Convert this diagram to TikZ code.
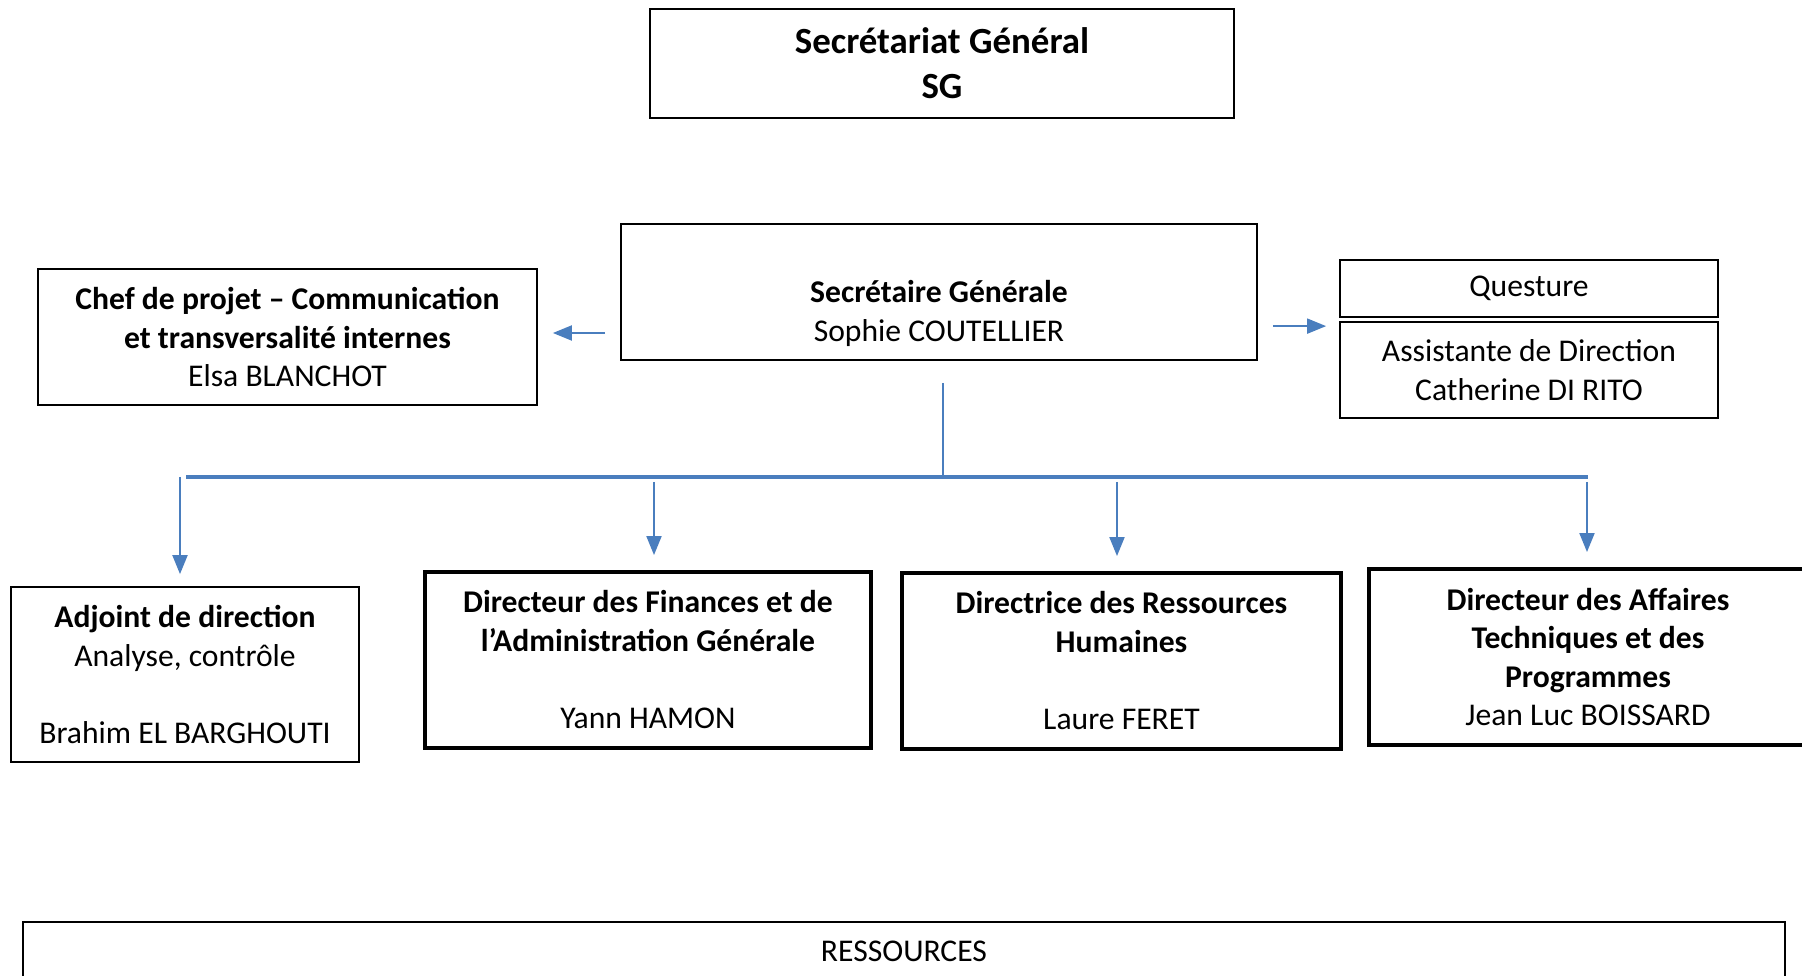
\documentclass[tikz,border=0pt]{standalone}
\usepackage{fontspec}
\setmainfont{Carlito}
\usetikzlibrary{arrows.meta}
\definecolor{linkblue}{RGB}{74,126,190}

\begin{document}
\begin{tikzpicture}[
    box/.style={draw, line width=1pt, align=center, inner sep=0pt,
                font=\fontsize{18}{22}\selectfont},
    thickbox/.style={box, line width=2.2pt},
    link/.style={draw=linkblue, line width=1.1pt},
    arr/.style={link, -{Triangle[length=0.38cm, width=0.3cm]}}
  ]
					% Fix the page to the size of the reference
					\useasboundingbox (0,0) rectangle (36.04,-19.52);
					\clip (0,0) rectangle (36.04,-19.52);
					
					% Top of the chart
					\node[box, minimum width=11.68cm, minimum height=2.18cm,
					      font=\fontsize{21}{25.5}\selectfont\bfseries] (titre) at (18.84,-1.27)
					      {Secrétariat Général\\ SG};
					\node[box, minimum width=12.72cm, minimum height=2.72cm] (sg) at (18.78,-5.84)
					      {\strut\\ \textbf{Secrétaire Générale}\\ Sophie COUTELLIER};
					
					% Boxes on each side of the SG
					\node[box, minimum width=9.98cm, minimum height=2.72cm] (chef) at (5.75,-6.74)
					      {\textbf{Chef de projet – Communication}\\ \textbf{et transversalité internes}\\ Elsa BLANCHOT};
					\node[box, minimum width=7.56cm, minimum height=1.14cm] (quest) at (30.58,-5.77) {Questure};
					\node[box, minimum width=7.56cm, minimum height=1.92cm] (asst) at (30.58,-7.40)
					      {Assistante de Direction\\ Catherine DI RITO};
					
					% Directions
					\node[box, minimum width=6.96cm, minimum height=3.5cm] (adj) at (3.70,-13.49)
					      {\textbf{Adjoint de direction}\\ Analyse, contrôle\\ \strut\\ Brahim EL BARGHOUTI};
					\node[thickbox, minimum width=8.92cm, minimum height=3.52cm] (fin) at (12.96,-13.20)
					      {\textbf{Directeur des Finances et de}\\ \textbf{l’Administration Générale}\\ \strut\\ Yann HAMON};
					\node[thickbox, minimum width=8.78cm, minimum height=3.52cm] (rh) at (22.43,-13.22)
					      {\textbf{Directrice des Ressources}\\ \textbf{Humaines}\\ \strut\\ Laure FERET};
					\node[thickbox, minimum width=8.76cm, minimum height=3.52cm] (datp) at (31.76,-13.14)
					      {\textbf{Directeur des Affaires}\\ \textbf{Techniques et des}\\ \textbf{Programmes}\\ Jean Luc BOISSARD};
					
					% Bottom band
					\node[box, line width=1.3pt, minimum width=35.24cm, minimum height=1.18cm] (res) at (18.08,-19.03) {RESSOURCES};
					
					% Side arrows
					\draw[arr, shorten <=0.3cm, shorten >=0.3cm] ([yshift=0.08cm]chef.east -| sg.west) -- ([yshift=0.08cm]chef.east);
					\draw[arr, shorten <=0.3cm, shorten >=0.26cm] ([yshift=-0.1cm]asst.north -| sg.east) -- ([yshift=-0.1cm]asst.north west);
					
					% Distribution line and arrows down
					\coordinate (bus) at (18.86,-9.54);
					\draw[link, shorten <=0.44cm] (sg.south -| bus) -- (bus);
					\draw[link, line width=2.2pt] ([xshift=0.02cm]adj.north |- bus) -- (datp.north |- bus);
					\draw[arr, shorten >=0.24cm] ([xshift=-0.1cm]adj.north |- bus) -- ([xshift=-0.1cm]adj.north);
					\foreach \n/\dx in {fin/0.12, rh/-0.09, datp/-0.02}
					  \draw[arr, shorten <=0.1cm, shorten >=0.3cm] ([xshift=\dx cm]\n.north |- bus) -- ([xshift=\dx cm]\n.north);
				\end{tikzpicture}
\end{document}
